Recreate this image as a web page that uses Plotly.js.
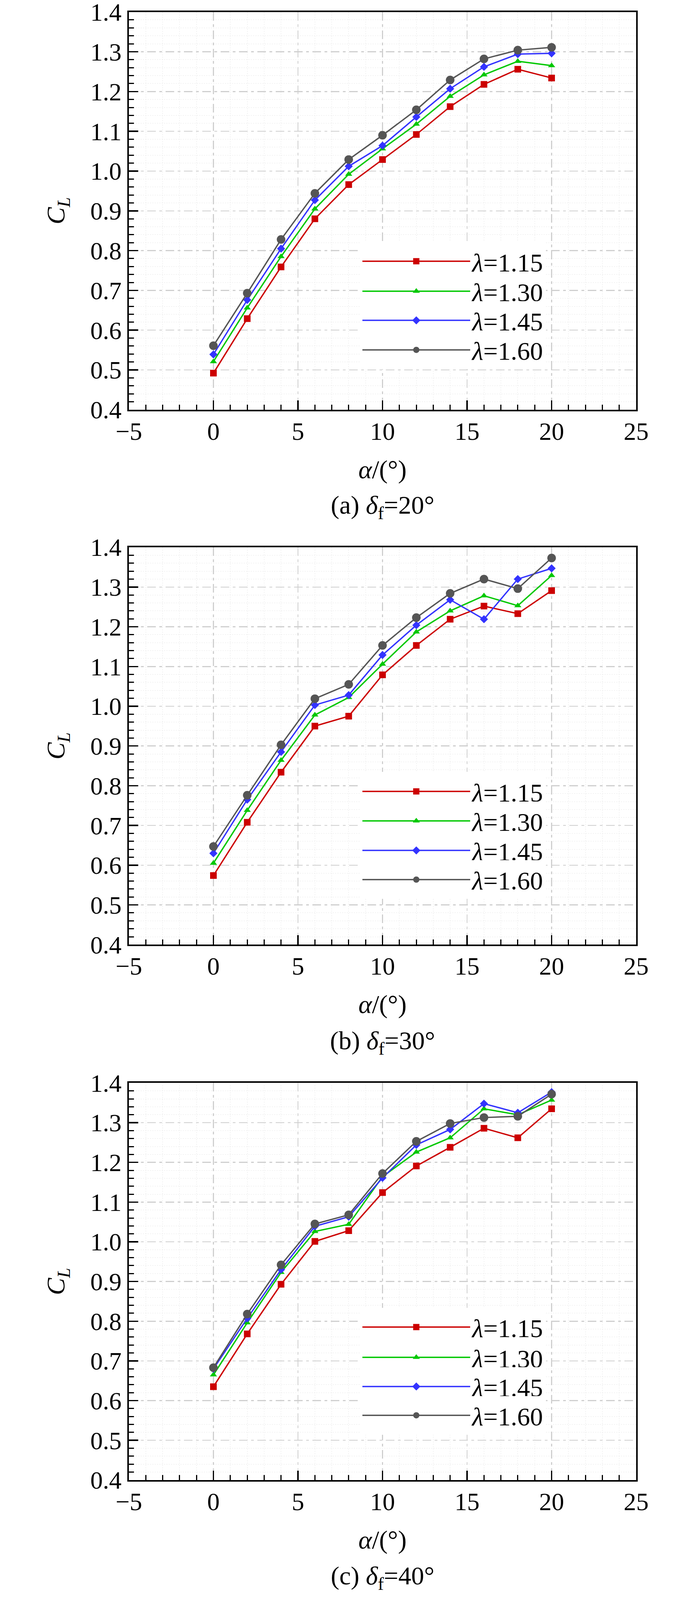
<!DOCTYPE html>
<html>
<head>
<meta charset="utf-8">
<script src="https://cdn.plot.ly/plotly-3.0.1.min.js"></script>
<style>
  html, body { margin: 0; padding: 0; background: #fff; overflow: hidden; }
</style>
</head>
<body>
<div id="chart"></div>
<script>
// angle of attack (deg)
const alpha = [0, 2, 4, 6, 8, 10, 12, 14, 16, 18, 20];
const lambdas = ['1.15', '1.30', '1.45', '1.60'];
const flapAngles = ['20', '30', '40'];
const panelTags = ['a', 'b', 'c'];

// C_L, delta_f = 20 deg
const cl20_115 = [0.492, 0.629, 0.759, 0.880, 0.966, 1.029, 1.092, 1.162, 1.218, 1.256, 1.234];
const cl20_130 = [0.521, 0.656, 0.785, 0.905, 0.992, 1.056, 1.118, 1.188, 1.242, 1.276, 1.265];
const cl20_145 = [0.539, 0.676, 0.805, 0.927, 1.012, 1.064, 1.136, 1.207, 1.262, 1.294, 1.296];
const cl20_160 = [0.561, 0.693, 0.828, 0.944, 1.029, 1.090, 1.154, 1.229, 1.282, 1.304, 1.311];

// C_L, delta_f = 30 deg
const cl30_115 = [0.574, 0.708, 0.834, 0.950, 0.975, 1.079, 1.153, 1.219, 1.252, 1.233, 1.291];
const cl30_130 = [0.605, 0.738, 0.864, 0.978, 1.022, 1.106, 1.187, 1.240, 1.278, 1.253, 1.329];
const cl30_145 = [0.630, 0.765, 0.885, 1.003, 1.028, 1.129, 1.204, 1.268, 1.219, 1.320, 1.347];
const cl30_160 = [0.647, 0.776, 0.903, 1.019, 1.055, 1.153, 1.223, 1.284, 1.320, 1.296, 1.373];

// C_L, delta_f = 40 deg
const cl40_115 = [0.635, 0.768, 0.893, 1.001, 1.028, 1.124, 1.191, 1.238, 1.286, 1.262, 1.335];
const cl40_130 = [0.665, 0.796, 0.923, 1.026, 1.044, 1.164, 1.226, 1.262, 1.335, 1.320, 1.357];
const cl40_145 = [0.680, 0.807, 0.930, 1.039, 1.063, 1.161, 1.244, 1.283, 1.348, 1.325, 1.377];
const cl40_160 = [0.683, 0.818, 0.942, 1.045, 1.068, 1.172, 1.253, 1.298, 1.313, 1.316, 1.372];

const panels = [
  [cl20_115, cl20_130, cl20_145, cl20_160],
  [cl30_115, cl30_130, cl30_145, cl30_160],
  [cl40_115, cl40_130, cl40_145, cl40_160]
];

const styles = [
  { color: '#cc0000', symbol: 'square', size: 17 },
  { color: '#00c800', symbol: 'triangle-up', size: 16 },
  { color: '#3333ff', symbol: 'diamond', size: 16 },
  { color: '#555555', symbol: 'circle', size: 22 }
];

// design size of the figure; the page height follows the real viewport
const W = 1772, H = 4280;
const pageH = window.innerHeight || H;
const FONT = "'Liberation Serif', 'Times New Roman', serif";
const px = v => v / W;
const py = v => 1 - v / H;

// plot boxes in design pixels
const plotLeft = 330, plotRight = 1629;
const plotTops = [32, 1464, 2897];
const plotBottoms = [1096, 2527, 3959];
// legend row centres, one legend box per entry so rows sit where the figure has them
const legendRows = [
  [699, 779, 857, 936],
  [2117, 2196, 2275, 2353],
  [3550, 3631, 3709, 3786]
];
const legendLeft = 923;
const captionY = [1356, 2788, 4220];

const traces = [];
const layout = {
  width: W,
  height: pageH,
  margin: { l: 0, r: 0, t: 0, b: 0 },
  paper_bgcolor: '#fff',
  plot_bgcolor: '#fff',
  font: { family: FONT, color: '#000' },
  showlegend: true,
  annotations: []
};

const common = {
  ticks: 'inside',
  ticklen: 24,
  tickwidth: 3.5,
  tickcolor: '#000',
  showline: true,
  linewidth: 4,
  linecolor: '#000',
  mirror: true,
  zeroline: false,
  showgrid: true,
  gridcolor: '#cfcfcf',
  gridwidth: 2.5,
  griddash: '22px,9px,7px,9px',
  ticklabeloverflow: 'allow',
  tickfont: { family: FONT, size: 64, color: '#000' }
};
const minor = {
  ticks: 'inside',
  ticklen: 13,
  tickwidth: 3,
  tickcolor: '#000',
  showgrid: true,
  gridcolor: '#e8e8e8',
  gridwidth: 1,
  griddash: 'dot'
};

panels.forEach((series, p) => {
  const sfx = p === 0 ? '' : String(p + 1);

  series.forEach((vals, i) => {
    const k = p * 4 + i;
    const legendId = k === 0 ? 'legend' : 'legend' + (k + 1);
    traces.push({
      x: alpha,
      y: vals,
      xaxis: 'x' + sfx,
      yaxis: 'y' + sfx,
      legend: legendId,
      name: '<i>λ</i>=' + lambdas[i],
      type: 'scatter',
      mode: 'lines+markers',
      line: { color: styles[i].color, width: 3.5 },
      marker: { color: styles[i].color, symbol: styles[i].symbol, size: styles[i].size }
    });
    layout[legendId] = {
      x: px(legendLeft),
      xanchor: 'left',
      y: py(legendRows[p][i]),
      yanchor: 'middle',
      bgcolor: '#fff',
      borderwidth: 0,
      itemwidth: 276,
      font: { family: FONT, size: 66, color: '#000' }
    };
  });

  layout['xaxis' + sfx] = Object.assign({}, common, {
    domain: [px(plotLeft), px(plotRight)],
    anchor: 'y' + sfx,
    range: [-5, 25],
    tick0: 0,
    dtick: 5,
    ticklabelstandoff: -4,
    minor: Object.assign({ dtick: 1 }, minor),
    title: { text: '<i>α</i>/(°)', font: { family: FONT, size: 66 }, standoff: 40 }
  });

  layout['yaxis' + sfx] = Object.assign({}, common, {
    domain: [py(plotBottoms[p]), py(plotTops[p])],
    anchor: 'x' + sfx,
    range: [0.4, 1.4],
    tick0: 0.4,
    dtick: 0.1,
    tickformat: '.1f',
    ticklabelstandoff: 2,
    minor: Object.assign({ dtick: 0.02 }, minor),
    title: { text: '<i>C</i><sub><i>L</i></sub>', font: { family: FONT, size: 66 }, standoff: 45 }
  });

  layout.annotations.push({
    xref: 'paper',
    yref: 'paper',
    x: px((plotLeft + plotRight) / 2),
    y: py(captionY[p]),
    xanchor: 'center',
    yanchor: 'middle',
    showarrow: false,
    text: '(' + panelTags[p] + ') <i>δ</i><sub>f</sub>=' + flapAngles[p] + '°',
    font: { family: FONT, size: 66, color: '#000' }
  });
});

Plotly.newPlot('chart', traces, layout, { staticPlot: true });
</script>
</body>
</html>
